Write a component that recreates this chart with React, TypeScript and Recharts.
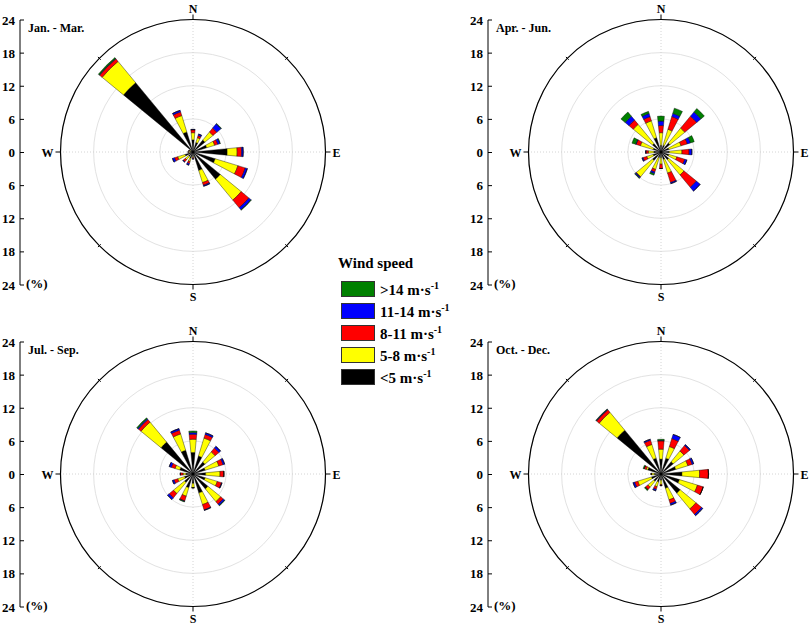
import React from 'react';
import {
  RadialBarChart,
  RadialBar,
  PolarAngleAxis,
  PolarRadiusAxis,
  PolarGrid,
  ComposedChart,
  Line,
  YAxis,
} from 'recharts';

const directions = ['N', 'NNE', 'NE', 'ENE', 'E', 'ESE', 'SE', 'SSE', 'S', 'SSW', 'SW', 'WSW', 'W', 'WNW', 'NW', 'NNW'];

// frequency (%) by direction, columns: <5, 5-8, 8-11, 11-14, >14 m/s
const janMar = [
  [2.2, 1.3, 0.5, 0.1, 0], [1.8, 0.9, 0.4, 0.3, 0], [2.8, 1.9, 0.9, 1.0, 0.1], [2.6, 1.5, 0.6, 0.4, 0.1],
  [6.2, 1.8, 0.8, 0.3, 0], [4.2, 4.3, 1.4, 0.4, 0], [6.4, 4.9, 1.8, 0.5, 0.1], [3.5, 2.3, 0.5, 0.2, 0],
  [0.8, 0.2, 0.2, 0.1, 0], [1.2, 0.6, 0.4, 0.3, 0], [1.0, 0.8, 0.5, 0.1, 0], [1.5, 1.4, 0.6, 0.4, 0],
  [0.5, 0.3, 0.1, 0, 0], [0.5, 0.2, 0.1, 0, 0], [16.3, 5.0, 0.6, 0.1, 0.2], [3.8, 3.1, 0.7, 0.3, 0],
];
const aprJun = [
  [1.2, 2.3, 1.3, 0.8, 0.9], [1.3, 3.0, 2.4, 0.6, 1.0], [2.1, 3.5, 2.8, 1.0, 0.8], [1.5, 2.3, 1.2, 0.6, 0.7],
  [1.5, 2.3, 1.3, 0.5, 0], [1.5, 1.5, 1.5, 0.4, 0], [1.8, 3.6, 2.9, 0.9, 0], [1.4, 2.6, 1.8, 0.2, 0],
  [1.0, 1.2, 0.8, 0, 0], [1.1, 2.2, 0.5, 0.3, 0.3], [2.0, 3.8, 0.1, 0.2, 0.1], [1.5, 1.2, 0.7, 0.2, 0],
  [1.3, 1.0, 0.4, 0.1, 0], [1.5, 2.4, 0.8, 0.1, 0.7], [2.0, 4.5, 1.0, 0.9, 1.0], [2.7, 3.2, 0.8, 0.6, 0.4],
];
const julSep = [
  [3.9, 2.4, 0.9, 0.3, 0.3], [3.4, 3.4, 0.7, 0.3, 0], [2.8, 2.4, 0.9, 0.4, 0], [2.3, 2.6, 0.8, 0.3, 0],
  [2.3, 2.6, 0.7, 0, 0], [2.3, 2.3, 0.8, 0.1, 0], [3.5, 3.0, 0.6, 0.3, 0.1], [3.6, 2.2, 1.0, 0.1, 0],
  [1.7, 0.8, 0, 0, 0], [2.6, 1.6, 0.9, 0.1, 0.1], [2.0, 2.6, 1.0, 0.4, 0], [1.6, 1.3, 0.7, 0.3, 0],
  [1.3, 0.5, 0.5, 0, 0], [2.5, 0.9, 0.7, 0.4, 0], [7.5, 4.7, 0.6, 0.2, 0.2], [4.5, 3.1, 0.7, 0.3, 0],
];
const octDec = [
  [2.7, 1.8, 1.5, 0.1, 0.2], [3.0, 2.2, 1.5, 0.8, 0], [2.9, 2.5, 1.3, 0.2, 0], [2.8, 2.3, 0.8, 0.3, 0],
  [3.8, 3.2, 1.6, 0, 0], [3.5, 3.4, 1.1, 0, 0], [4.5, 3.7, 1.3, 0.3, 0], [2.7, 2.2, 0.7, 0.3, 0],
  [1.1, 0.8, 0.2, 0, 0], [1.5, 0.9, 0.5, 0.3, 0], [1.7, 1.4, 0.6, 0, 0.2], [1.8, 2.6, 0.6, 0.3, 0],
  [1.2, 0.5, 0.1, 0, 0], [2.5, 0.3, 0.4, 0, 0.2], [10.3, 4.2, 0.6, 0.1, 0.1], [3.0, 2.6, 0.8, 0.2, 0],
];

const speedBins = ['<5', '5-8', '8-11', '11-14', '>14'];
const binColors = ['#000000', '#ffff00', '#ff0000', '#0000ff', '#008000'];
const radiusTicks = [0, 6, 12, 18, 24];
const pctTicks = [-24, -18, -12, -6, 0, 6, 12, 18, 24];

const FONT = '"Liberation Serif", "Times New Roman", serif';
const R = 132.5;
const CW = 330;
const CH = 310;
const HALF_SECTOR = 360 / directions.length / 2;

const panels = [
  { title: 'Jan. - Mar.', rows: janMar, cx: 192.5, cy: 152, axisX: 20 },
  { title: 'Apr. - Jun.', rows: aprJun, cx: 660.5, cy: 152, axisX: 488 },
  { title: 'Jul. - Sep.', rows: julSep, cx: 192.5, cy: 474, axisX: 20 },
  { title: 'Oct. - Dec.', rows: octDec, cx: 660.5, cy: 474, axisX: 488 },
];

// label / tick direction for the compass points
const compass: Record<string, { dx: number; dy: number; label?: boolean }> = {
  N: { dx: 0, dy: -1, label: true },
  E: { dx: 1, dy: 0, label: true },
  S: { dx: 0, dy: 1, label: true },
  W: { dx: -1, dy: 0, label: true },
  NE: { dx: 0.707, dy: -0.707 },
  SE: { dx: 0.707, dy: 0.707 },
  SW: { dx: -0.707, dy: 0.707 },
  NW: { dx: -0.707, dy: -0.707 },
};

// the angle axis puts a category's tick at the edge of its sector; turn it to the sector middle
const toSectorMiddle = (x: number, y: number) => {
  const ox = CW / 2, oy = CH / 2;
  const vx = x - ox, vy = oy - y;
  const a = (HALF_SECTOR * Math.PI) / 180;
  const rx = vx * Math.cos(a) - vy * Math.sin(a);
  const ry = vx * Math.sin(a) + vy * Math.cos(a);
  return [ox + rx, oy - ry];
};

const CompassTick = (props: any) => {
  const { payload } = props;
  const c = compass[payload.value];
  if (!c) return <g />;
  const [x, y] = toSectorMiddle(props.x, props.y);
  if (!c.label) {
    return <line x1={x - c.dx * 3} y1={y - c.dy * 3} x2={x + c.dx * 1} y2={y + c.dy * 1} stroke="#000" strokeWidth={1} />;
  }
  let tx = x, ty = y + 4.5, anchor = 'middle';
  if (payload.value === 'N') ty = y - 6;
  if (payload.value === 'S') ty = y + 15;
  if (payload.value === 'E') { tx = x + 6; anchor = 'start'; }
  if (payload.value === 'W') { tx = x - 6; anchor = 'end'; }
  return (
    <g>
      <line x1={x - c.dx} y1={y - c.dy} x2={x + c.dx * 4} y2={y + c.dy * 4} stroke="#000" strokeWidth={1} />
      <text x={tx} y={ty} textAnchor={anchor} fontFamily={FONT} fontWeight="bold" fontSize={12} fill="#000">
        {payload.value}
      </text>
    </g>
  );
};

const PctTick = (props: any) => {
  const { x, y, payload } = props;
  return (
    <g>
      <line x1={x + 4} y1={y} x2={x + 8} y2={y} stroke="#000" strokeWidth={1} />
      <text x={x - 1} y={y + 4.5} textAnchor="end" fontFamily={FONT} fontWeight="bold" fontSize={13} fill="#000">
        {Math.abs(payload.value)}
      </text>
    </g>
  );
};

const Rose = ({ rows, cx, cy }: { rows: number[][]; cx: number; cy: number }) => {
  const data = directions.map((dir, i) => {
    const row: Record<string, any> = { dir };
    speedBins.forEach((_, k) => { row['b' + k] = rows[i][k]; });
    return row;
  });
  return (
    <div style={{ position: 'absolute', left: cx - CW / 2, top: cy - CH / 2 }}>
      <RadialBarChart
        width={CW}
        height={CH}
        data={data}
        layout="centric"
        cx={CW / 2}
        cy={CH / 2}
        innerRadius={0}
        outerRadius={R}
        startAngle={90 - HALF_SECTOR}
        endAngle={90 - HALF_SECTOR - 360}
        barCategoryGap="26%"
        margin={{ top: 0, right: 0, bottom: 0, left: 0 }}
      >
        <PolarGrid gridType="circle" radialLines={false} stroke="#e2e2e2" />
        <PolarGrid gridType="circle" polarRadius={[]} polarAngles={[0, 90, 180, 270]} stroke="#d4d4d4" strokeDasharray="1 2" />
        <PolarAngleAxis
          type="category"
          dataKey="dir"
          axisLineType="circle"
          axisLine={{ stroke: '#000', strokeWidth: 1.2 }}
          tickLine={false}
          tickSize={1}
          tick={CompassTick}
        />
        <PolarRadiusAxis type="number" domain={[0, 24]} ticks={radiusTicks} tick={false} axisLine={false} />
        {speedBins.map((b, k) => (
          <RadialBar
            key={b}
            dataKey={'b' + k}
            stackId="wind"
            fill={binColors[k]}
            stroke="#000"
            strokeWidth={0.4}
            isAnimationActive={false}
          />
        ))}
      </RadialBarChart>
    </div>
  );
};

const axisData = pctTicks.map((v) => ({ v }));

const PctAxis = ({ axisX, cy }: { axisX: number; cy: number }) => (
  <div style={{ position: 'absolute', left: axisX - 30, top: cy - R - 10 }}>
    <ComposedChart width={50} height={2 * R + 20} data={axisData} margin={{ top: 10, bottom: 10, left: 0, right: 0 }}>
      <YAxis
        type="number"
        domain={[-24, 24]}
        ticks={pctTicks}
        interval={0}
        width={30}
        axisLine={{ stroke: '#000', strokeWidth: 1 }}
        tickLine={false}
        tickSize={0}
        tickMargin={4}
        tick={PctTick}
      />
      <Line dataKey="v" stroke="none" dot={false} isAnimationActive={false} />
    </ComposedChart>
  </div>
);

const legendRows = speedBins.map((b, k) => ({ label: b, color: binColors[k] })).reverse();

export default function App() {
  const text = { fontFamily: FONT, fontWeight: 'bold' as const, color: '#000' };
  return (
    <div style={{ position: 'absolute', left: 0, top: 0, width: 809, height: 626, overflow: 'hidden', background: '#fff' }}>
      {panels.map((p) => (
        <React.Fragment key={p.title}>
          <Rose rows={p.rows} cx={p.cx} cy={p.cy} />
          <PctAxis axisX={p.axisX} cy={p.cy} />
          <div style={{ ...text, position: 'absolute', left: p.axisX + 8, top: p.cy - R + 1, fontSize: 12 }}>{p.title}</div>
          <div style={{ ...text, position: 'absolute', left: p.axisX + 6, top: p.cy + R - 9, fontSize: 13 }}>(%)</div>
        </React.Fragment>
      ))}
      <div style={{ ...text, position: 'absolute', left: 338, top: 255 }}>
        <div style={{ fontSize: 15, marginBottom: 6 }}>Wind speed</div>
        {legendRows.map((r) => (
          <div key={r.label} style={{ display: 'flex', alignItems: 'center', height: 22 }}>
            <div style={{ width: 34, height: 16, background: r.color, border: '1px solid #333', marginLeft: 3, boxSizing: 'border-box' }} />
            <span style={{ fontSize: 15, marginLeft: 5 }}>
              {r.label} m·s<sup style={{ fontSize: 10 }}>-1</sup>
            </span>
          </div>
        ))}
      </div>
    </div>
  );
}
